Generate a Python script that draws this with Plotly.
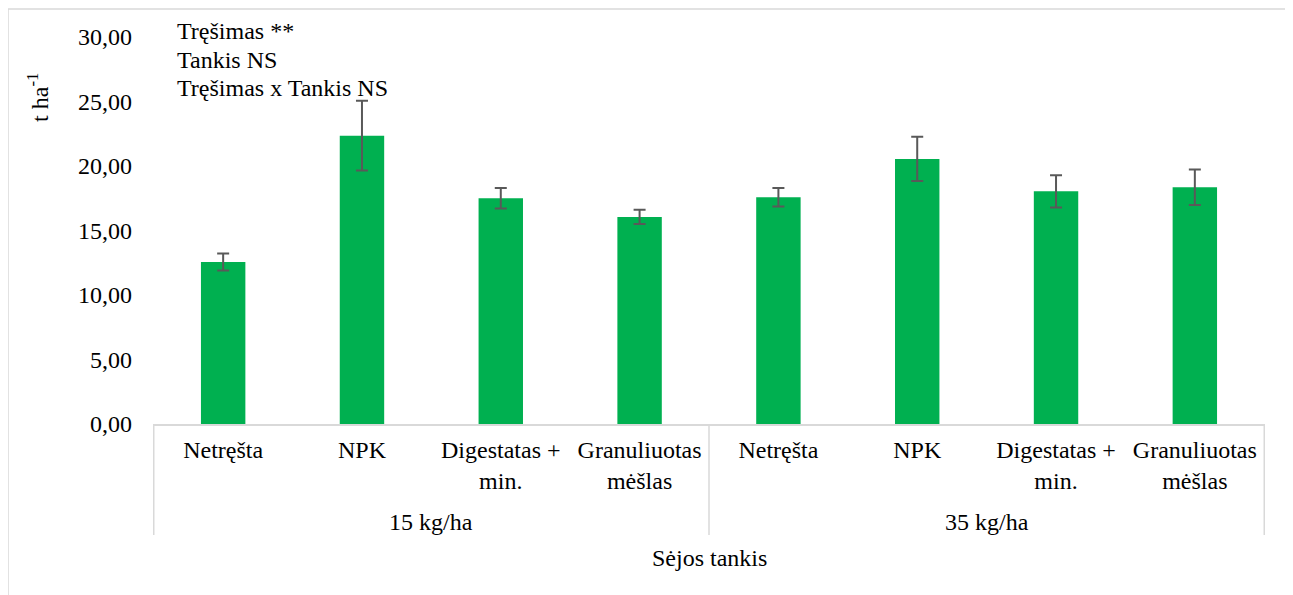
import plotly.graph_objects as go

density = ["15 kg/ha"] * 4 + ["35 kg/ha"] * 4
fertilizer = ["Netręšta", "NPK", "Digestatas +<br>min.", "Granuliuotas<br>mėšlas"] * 2
yield_t = [12.55, 22.35, 17.50, 16.05, 17.58, 20.55, 18.04, 18.35]
error = [0.66, 2.70, 0.80, 0.55, 0.72, 1.72, 1.25, 1.37]
y_ticks = [0, 5, 10, 15, 20, 25, 30]
groups = ["15 kg/ha", "35 kg/ha"]
notes = ["Tręšimas **", "Tankis NS", "Tręšimas x Tankis NS"]

keys = [f"{d}|{f}" for d, f in zip(density, fertilizer)]

FONT = "Liberation Serif"
GREEN = "#00B050"
GRAY = "#d9d9d9"
FS = 24

fig = go.Figure()
fig.add_trace(go.Bar(
    x=keys,
    y=yield_t,
    marker=dict(color=GREEN, line=dict(width=0)),
    error_y=dict(type="data", array=error, visible=True, color="#595959", thickness=2, width=6),
    showlegend=False,
))

fig.update_layout(
    width=1285, height=587,
    margin=dict(l=145, r=28, t=29, b=171, autoexpand=False),
    paper_bgcolor="white", plot_bgcolor="white",
    bargap=0.68,
    separators=", ",
    font=dict(family=FONT, size=FS, color="black"),
)
fig.update_yaxes(
    range=[0, 30], tickvals=y_ticks, tickformat=".2f",
    showgrid=False, zeroline=False, showline=False,
    ticks="", ticklabelstandoff=20,
    tickfont=dict(family=FONT, size=FS),
)
fig.update_xaxes(
    type="category", tickvals=keys, ticktext=fertilizer,
    showgrid=False, zeroline=False, showline=True, linecolor=GRAY, linewidth=1.5,
    ticks="", ticklabelstandoff=3,
    tickfont=dict(family=FONT, size=FS),
)

# group labels and dividers of the two-level category axis
n_per = len(fertilizer) // len(groups)
for gi, g in enumerate(groups):
    fig.add_annotation(
        text=g, xref="x", yref="paper", x=gi * n_per + (n_per - 1) / 2, y=-0.253,
        xanchor="center", yanchor="middle", showarrow=False, font=dict(family=FONT, size=FS),
    )
for b in range(len(groups) + 1):
    fig.add_shape(
        type="line", xref="x", yref="paper", x0=b * n_per - 0.5, x1=b * n_per - 0.5,
        y0=0, y1=-0.287, line=dict(color=GRAY, width=1.5),
    )

fig.add_annotation(
    text="Sėjos tankis", xref="paper", yref="paper", x=0.5, y=-0.346,
    xanchor="center", yanchor="middle", showarrow=False, font=dict(family=FONT, size=FS),
)
for i, note in enumerate(notes):
    fig.add_annotation(
        text=note, xref="paper", yref="paper", x=0.020, y=1.0155 - i * 0.0737,
        xanchor="left", yanchor="middle", align="left", showarrow=False,
        font=dict(family=FONT, size=FS),
    )
fig.add_annotation(
    text="t ha<sup>-1</sup>",
    xref="paper", yref="paper", x=-0.1035, y=0.845, xanchor="center", yanchor="middle",
    textangle=-90, showarrow=False, font=dict(family=FONT, size=FS),
)
fig.add_shape(
    type="rect", xref="paper", yref="paper",
    x0=-0.1304, x1=1.0243, y0=-0.48, y1=1.0724,
    line=dict(color=GRAY, width=1.5), fillcolor="rgba(0,0,0,0)", layer="below",
)

fig.write_html("out.html")
